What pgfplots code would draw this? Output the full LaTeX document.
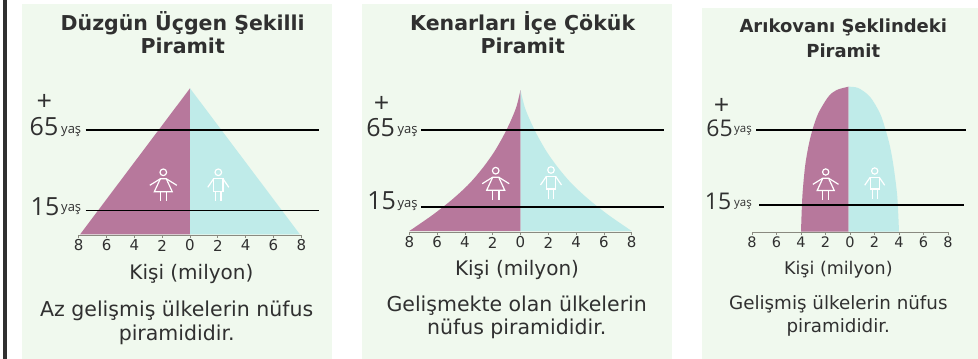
\documentclass[border=0pt]{standalone}
\usepackage{fontspec}
\setmainfont{DejaVu Sans}
\newfontfamily\numfont{Open Sans}
\usepackage{pgfplots}
\pgfplotsset{compat=1.18}
\definecolor{panel}{HTML}{F0F9EE}
\definecolor{fem}{HTML}{B7789C}
\definecolor{mal}{HTML}{BFEBE9}
\definecolor{ink}{HTML}{303030}
\definecolor{axisgrey}{HTML}{8A8A80}
\newcommand\T[4]{\node[anchor=center,inner sep=0pt,text=ink,font=#3] at (#1,{359-#2}) {#4};}
\newcommand\Fem[3]{\begin{scope}[shift={(#1,{359-#2})},scale=#3,white,line width=1.2pt]
\draw (0,0) circle (3.3);
\draw (-13.5,-13) -- (-3,-6.5) -- (3,-6.5) -- (13.5,-13);
\draw (-3,-6.5) -- (-9,-19.5) -- (9,-19.5) -- (3,-6.5);
\draw (-3.2,-19.5) -- (-3.2,-29) (3.2,-19.5) -- (3.2,-29);
\end{scope}}
\newcommand\Mal[3]{\begin{scope}[shift={(#1,{359-#2})},scale=#3,white,line width=1.2pt]
\draw (0,0) circle (3.3);
\draw (-4.7,-6.5) rectangle (4.7,-19);
\draw (-4.7,-6.5) -- (-10.5,-15) (4.7,-6.5) -- (10.5,-15);
\draw (-2.6,-19) -- (-2.6,-29) (2.6,-19) -- (2.6,-29);
\end{scope}}
\pgfplotsset{pyr/.style={
  scale only axis, clip=false, anchor=south west,
  axis x line=bottom, axis y line=none,
  xmin=-8, xmax=8,
  xtick={-8,-6,-4,-2,0,2,4,6,8},
  xticklabels={8,6,4,2,0,2,4,6,8},
  tick align=outside, major tick length=3pt,
  x axis line style={-,color=axisgrey,line width=0.8pt},
  every tick/.style={color=axisgrey,line width=0.8pt},
  xticklabel style={font=\fontsize{15}{15}\selectfont,text=ink,anchor=center,yshift=-7.5pt},
  xlabel={Kişi (milyon)},
  xlabel style={font=\fontsize{20}{20}\selectfont,text=ink,anchor=center},
}}
\begin{document}
\begin{tikzpicture}[x=1pt,y=1pt]
\path[fill=white,use as bounding box] (0,0) rectangle (978,359);
\fill[panel] (22,0) rectangle (332,355);
\fill[panel] (362,0) rectangle (672,355);
\fill[panel] (702,0) rectangle (978,351);
\fill[ink] (3.3,0) rectangle (6.5,359);
%
\begin{axis}[pyr,at={(78.7pt,124pt)},width=222.6pt,height=146.7pt,ymin=-0.38,ymax=91,
  xlabel style={at={(axis cs:0.1,-0.38)},yshift=-39pt}]
\addplot[fill=fem,draw=none] coordinates {(-7.9,0) (0,91) (0,0)} -- cycle;
\addplot[fill=mal,draw=none] coordinates {(7.9,0) (0,91) (0,0)} -- cycle;
\addplot[black,line width=1.3pt] coordinates {(-7.5,65) (9.25,65)};
\addplot[black,line width=1.3pt] coordinates {(-7.5,15) (9.25,15)};
\end{axis}
%
\begin{axis}[pyr,at={(409.3pt,127pt)},width=222.4pt,height=142pt,ymin=-1.23,ymax=91,
  xlabel style={at={(axis cs:-0.25,-1.23)},yshift=-38pt}]
\addplot[fill=fem,draw=none,smooth] coordinates {(0,91) (-0.3,80) (-0.75,70) (-1.3,60) (-1.95,50) (-2.75,40) (-3.7,30) (-4.9,20) (-6.3,10) (-8,-0.6)} -- (axis cs:0,-0.6) -- cycle;
\addplot[fill=mal,draw=none,smooth] coordinates {(0,91) (0.3,80) (0.75,70) (1.3,60) (1.95,50) (2.75,40) (3.7,30) (4.9,20) (6.3,10) (8,-0.6)} -- (axis cs:0,-0.6) -- cycle;
\addplot[black,line width=1.3pt] coordinates {(-7.16,65) (10.35,65)};
\addplot[black,line width=1.3pt] coordinates {(-7.16,15) (10.35,15)};
\end{axis}
%
\begin{axis}[pyr,at={(752pt,127pt)},width=196pt,height=145.3pt,ymin=-3,ymax=93.9,
  xticklabel style={font=\fontsize{14.5}{14.5}\selectfont},
  xlabel style={font=\fontsize{17.5}{17.5}\selectfont,at={(axis cs:-0.95,-3)},yshift=-37.5pt}]
\addplot[fill=fem,draw=none,smooth] coordinates {(-0.12,93.9) (-1.09,91.7) (-1.77,87.2) (-2.59,76.1) (-3.07,65) (-3.4,53.9) (-3.67,40.6) (-3.89,20.6) (-4,-2.8)} -- (axis cs:-0.12,-2.8) -- cycle;
\addplot[fill=mal,draw=none,smooth] coordinates {(-0.12,93.9) (0.68,93) (1.63,87.2) (2.45,76.1) (2.91,65) (3.27,53.9) (3.56,40.6) (3.86,20.6) (4,-2.8)} -- (axis cs:-0.12,-2.8) -- cycle;
\addplot[black,line width=1.3pt] coordinates {(-7.67,65) (9.45,65)};
\addplot[black,line width=1.3pt] coordinates {(-7.4,15) (9.3,15)};
\end{axis}
%
\Fem{163.3}{172.3}{1}\Mal{218.3}{172.3}{1}
\Fem{495.7}{170.7}{1}\Mal{551}{170}{1}
\Fem{825.7}{172}{0.95}\Mal{874.7}{171}{0.95}
%
\T{182.7}{23.3}{\fontsize{20.5}{20.5}\selectfont\bfseries}{Düzgün Üçgen Şekilli}
\T{182.7}{46}{\fontsize{20.5}{20.5}\selectfont\bfseries}{Piramit}
\T{522.7}{23.3}{\fontsize{20.5}{20.5}\selectfont\bfseries}{Kenarları İçe Çökük}
\T{522.7}{46}{\fontsize{20.5}{20.5}\selectfont\bfseries}{Piramit}
\T{843.3}{27.7}{\fontsize{18}{18}\selectfont\bfseries}{Arıkovanı Şeklindeki}
\T{843.3}{50.7}{\fontsize{18}{18}\selectfont\bfseries}{Piramit}
%
\T{176.7}{310.7}{\fontsize{20.5}{20.5}\selectfont}{Az gelişmiş ülkelerin nüfus}
\T{176.7}{335}{\fontsize{20.5}{20.5}\selectfont}{piramididir.}
\T{516.7}{306}{\fontsize{20.5}{20.5}\selectfont}{Gelişmekte olan ülkelerin}
\T{516.7}{329}{\fontsize{20.5}{20.5}\selectfont}{nüfus piramididir.}
\T{838.3}{304.3}{\fontsize{18.3}{18.3}\selectfont}{Gelişmiş ülkelerin nüfus}
\T{838.3}{327.7}{\fontsize{18.3}{18.3}\selectfont}{piramididir.}
%
\T{44.3}{102.7}{\numfont\fontsize{27}{27}\selectfont}{+}
\T{44}{126.7}{\numfont\fontsize{25}{25}\selectfont}{65}
\T{71.2}{131.7}{\numfont\fontsize{13}{13}\selectfont}{yaş}
\T{45}{206.7}{\numfont\fontsize{25}{25}\selectfont}{15}
\T{71.2}{210}{\numfont\fontsize{13}{13}\selectfont}{yaş}
\T{381.7}{104}{\numfont\fontsize{27}{27}\selectfont}{+}
\T{380.7}{128}{\numfont\fontsize{25}{25}\selectfont}{65}
\T{407.5}{132}{\numfont\fontsize{13}{13}\selectfont}{yaş}
\T{381.7}{201}{\numfont\fontsize{25}{25}\selectfont}{15}
\T{407.5}{205.7}{\numfont\fontsize{13}{13}\selectfont}{yaş}
\T{721.7}{106}{\numfont\fontsize{27}{27}\selectfont}{+}
\T{719.5}{128.3}{\numfont\fontsize{23}{23}\selectfont}{65}
\T{743}{131}{\numfont\fontsize{11.5}{11.5}\selectfont}{yaş}
\T{718}{201.7}{\numfont\fontsize{23}{23}\selectfont}{15}
\T{743}{205}{\numfont\fontsize{11.5}{11.5}\selectfont}{yaş}
\end{tikzpicture}
\end{document}
